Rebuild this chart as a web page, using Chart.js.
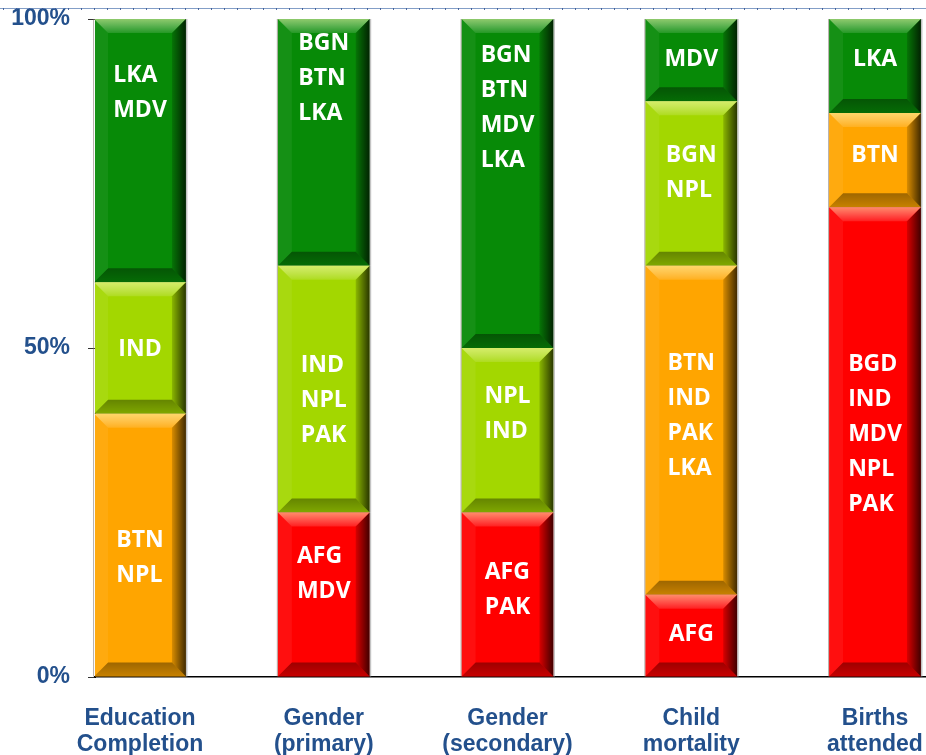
<!DOCTYPE html>
<html>
<head>
<meta charset="utf-8">
<script src="https://cdn.jsdelivr.net/npm/chart.js@4/dist/chart.umd.min.js"></script>
<style>
  html, body { margin: 0; padding: 0; background: #ffffff; overflow: hidden; }
  #wrap { width: 926px; height: 755px; overflow: hidden; position: relative; }
</style>
</head>
<body>
<div id="wrap"><canvas id="c" width="960" height="755"></canvas></div>
<script>
// ---- data ----
const categories = [["Education", "Completion"], ["Gender", "(primary)"], ["Gender", "(secondary)"], ["Child", "mortality"], ["Births", "attended"]];
const redValues        = [0, 25, 25, 12.5, 71.4];
const orangeValues     = [40, 0, 0, 50, 14.3];
const lightGreenValues = [20, 37.5, 25, 25, 0];
const darkGreenValues  = [40, 37.5, 50, 12.5, 14.3];

const redCountries        = [[], ["AFG", "MDV"], ["AFG", "PAK"], ["AFG"], ["BGD", "IND", "MDV", "NPL", "PAK"]];
const orangeCountries     = [["BTN", "NPL"], [], [], ["BTN", "IND", "PAK", "LKA"], ["BTN"]];
const lightGreenCountries = [["IND"], ["IND", "NPL", "PAK"], ["NPL", "IND"], ["BGN", "NPL"], []];
const darkGreenCountries  = [["LKA", "MDV"], ["BGN", "BTN", "LKA"], ["BGN", "BTN", "MDV", "LKA"], ["MDV"], ["LKA"]];

const yTickValues = [0, 50, 100];

// label block anchors (value units on the % axis)
const redLabelAt        = [null, 15.7, 13.2, 6.4, 36.9];
const orangeLabelAt     = [18.1, null, null, 39.7, 79.2];
const lightGreenLabelAt = [49.8, 42.1, 40.0, 76.6, null];
const darkGreenLabelAt  = [88.8, 90.9, 86.5, 93.8, 93.8];

// ---- styling ----
const textBlue = '#23508C';
const series = [
  { name: 'red',        values: redValues,        labels: redCountries,        at: redLabelAt,        color: '#FF0000' },
  { name: 'orange',     values: orangeValues,     labels: orangeCountries,     at: orangeLabelAt,     color: '#FFA500' },
  { name: 'lightgreen', values: lightGreenValues, labels: lightGreenCountries, at: lightGreenLabelAt, color: '#A3D700' },
  { name: 'darkgreen',  values: darkGreenValues,  labels: darkGreenCountries,  at: darkGreenLabelAt,  color: '#078A07' }
];

const bevelPlugin = {
  id: 'bevel',
  afterDatasetsDraw(chart) {
    const ctx = chart.ctx;
    ctx.save();
    chart.data.datasets.forEach((ds, di) => {
      const meta = chart.getDatasetMeta(di);
      meta.data.forEach((bar) => {
        const p = bar.getProps(['x', 'y', 'base', 'width'], true);
        const l = p.x - p.width / 2, r = p.x + p.width / 2;
        const t = Math.min(p.y, p.base), b = Math.max(p.y, p.base);
        const h = b - t;
        if (h < 1) return;
        const bv = Math.min(14, h / 2, p.width / 2);
        const poly = (pts, fill) => {
          ctx.beginPath();
          ctx.moveTo(pts[0][0], pts[0][1]);
          for (let k = 1; k < pts.length; k++) ctx.lineTo(pts[k][0], pts[k][1]);
          ctx.closePath();
          ctx.fillStyle = fill;
          ctx.fill();
        };
        let g = ctx.createLinearGradient(0, t, 0, t + bv);
        g.addColorStop(0, 'rgba(255,255,190,0.55)');
        g.addColorStop(1, 'rgba(255,255,255,0.12)');
        poly([[l, t], [r, t], [r - bv, t + bv], [l + bv, t + bv]], g);
        g = ctx.createLinearGradient(0, b - bv, 0, b);
        g.addColorStop(0, 'rgba(0,0,0,0.38)');
        g.addColorStop(1, 'rgba(0,0,0,0.22)');
        poly([[l, b], [r, b], [r - bv, b - bv], [l + bv, b - bv]], g);
        g = ctx.createLinearGradient(r - bv, 0, r, 0);
        g.addColorStop(0, 'rgba(0,0,0,0.15)');
        g.addColorStop(1, 'rgba(0,0,0,0.75)');
        poly([[r, t], [r, b], [r - bv, b - bv], [r - bv, t + bv]], g);
        poly([[l, t], [l, b], [l + bv, b - bv], [l + bv, t + bv]], 'rgba(255,255,255,0.06)');
        ctx.fillStyle = 'rgba(120,110,100,0.55)';
        ctx.fillRect(l - 1, t, 1, h);
        ctx.fillStyle = 'rgba(170,170,170,0.7)';
        ctx.fillRect(r, t, 1.5, h);
      });
    });

    // country labels
    const yScale = chart.scales.y;
    ctx.font = '700 23px "Open Sans", "DejaVu Sans", sans-serif';
    ctx.fillStyle = '#ffffff';
    ctx.textAlign = 'left';
    ctx.textBaseline = 'middle';
    const lineGap = 35;
    series.forEach((s, di) => {
      const meta = chart.getDatasetMeta(di);
      meta.data.forEach((bar, i) => {
        const lines = s.labels[i];
        if (!lines || !lines.length || s.at[i] == null) return;
        const maxW = Math.max(...lines.map(tx => ctx.measureText(tx).width));
        const x0 = bar.x - maxW / 2;
        const yc = yScale.getPixelForValue(s.at[i]);
        const y0 = yc - (lines.length - 1) / 2 * lineGap;
        lines.forEach((tx, k) => ctx.fillText(tx, x0, y0 + k * lineGap));
      });
    });

    // top rule (under clipped title)
    ctx.strokeStyle = 'rgba(90,125,180,0.75)';
    ctx.lineWidth = 1;
    ctx.beginPath();
    ctx.moveTo(0, 8.5);
    ctx.lineTo(chart.width, 8.5);
    ctx.stroke();
    ctx.fillStyle = 'rgba(60,90,150,0.9)';
    for (let xx = 3; xx < chart.width; xx += 13) ctx.fillRect(xx, 8, 1, 2);
    ctx.restore();
  }
};

const pxPerCat = 183.75;
const firstCenter = 140;
const axisLeft = 95;
const canvasW = 960;
const xMin = -(firstCenter - axisLeft) / pxPerCat;
const xMax = xMin + (canvasW - axisLeft) / pxPerCat;

new Chart(document.getElementById('c'), {
  type: 'bar',
  data: {
    datasets: series.map(s => ({
      label: s.name,
      data: s.values.map((v, i) => ({ x: i, y: v })),
      backgroundColor: s.color,
      borderWidth: 0,
      barPercentage: 0.5,
      categoryPercentage: 1.0
    }))
  },
  options: {
    responsive: false,
    animation: false,
    layout: { padding: { top: 19, left: 0, right: 0, bottom: 0 } },
    plugins: { legend: { display: false }, tooltip: { enabled: false }, title: { display: false } },
    scales: {
      x: {
        type: 'linear',
        offset: false,
        stacked: true,
        min: xMin,
        max: xMax,
        afterBuildTicks: (scale) => { scale.ticks = categories.map((c, i) => ({ value: i })); },
        afterFit: (scale) => { scale.height = 78; },
        grid: { display: true, offset: false, drawOnChartArea: false, drawTicks: false },
        border: { display: true, color: '#000000', width: 1.5 },
        ticks: {
          autoSkip: false,
          maxRotation: 0,
          padding: 29,
          color: textBlue,
          font: { family: '"Liberation Sans", Arial, sans-serif', size: 23, weight: 'bold', lineHeight: 1.13 },
          callback: (v) => categories[v]
        }
      },
      y: {
        stacked: true,
        min: 0,
        max: 100,
        afterBuildTicks: (scale) => { scale.ticks = yTickValues.map(v => ({ value: v })); },
        afterFit: (scale) => { scale.width = axisLeft; scale.paddingTop = 0; scale.paddingBottom = 0; },
        grid: { display: true, drawOnChartArea: false, drawTicks: true, tickLength: 7, color: '#333333' },
        border: { display: true, color: '#000000', width: 1 },
        ticks: {
          padding: 18,
          color: textBlue,
          font: { family: '"Liberation Sans", Arial, sans-serif', size: 23, weight: 'bold' },
          callback: (v) => v + '%'
        }
      }
    }
  },
  plugins: [bevelPlugin]
});
</script>
</body>
</html>
